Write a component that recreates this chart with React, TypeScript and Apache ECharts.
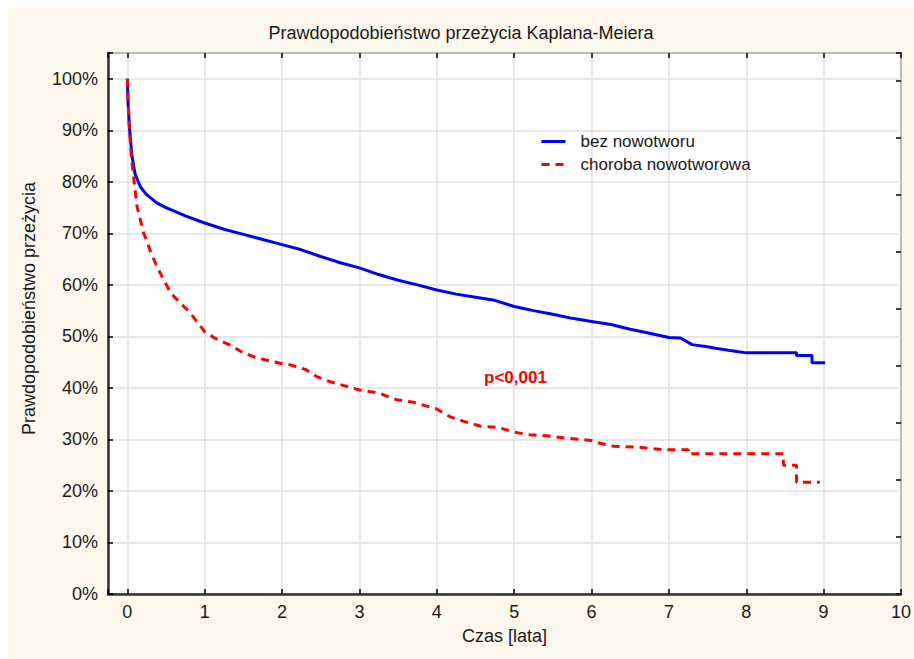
import React, { useEffect, useRef } from "react";
import * as echarts from "echarts";

// Kaplan–Meier curves (time in years, survival in %)
const noCancerSurvival: [number, number][] = [
  [0, 100], [0.01, 95], [0.03, 90], [0.06, 85], [0.1, 81.5], [0.17, 79], [0.25, 77.5],
  [0.38, 75.9], [0.5, 75], [0.75, 73.4], [1.0, 72], [1.25, 70.8], [1.5, 69.8],
  [1.75, 68.8], [2.0, 67.8], [2.25, 66.8], [2.5, 65.5], [2.75, 64.3], [3.0, 63.3],
  [3.25, 62.0], [3.5, 60.9], [3.75, 60.0], [4.0, 59.0], [4.25, 58.2], [4.5, 57.6],
  [4.75, 57.0], [5.0, 55.8], [5.25, 55.0], [5.5, 54.3], [5.75, 53.5], [6.0, 52.9],
  [6.25, 52.3], [6.5, 51.4], [6.75, 50.6], [7.0, 49.8], [7.15, 49.7], [7.3, 48.4],
  [7.5, 48.0], [7.6, 47.7], [7.9, 47.0], [8.0, 46.8], [8.65, 46.8], [8.65, 46.3],
  [8.85, 46.3], [8.85, 44.9], [9.02, 44.9],
];

const cancerSurvival: [number, number][] = [
  [0, 100], [0.02, 92], [0.05, 85], [0.08, 81], [0.125, 75.2], [0.21, 70.1], [0.3, 66.5],
  [0.38, 63.6], [0.56, 58.4], [0.81, 54.6], [1.0, 50.9], [1.15, 49.5], [1.33, 48.3],
  [1.5, 46.8], [1.68, 45.8], [2.0, 44.7], [2.1, 44.5], [2.3, 43.6], [2.45, 42.2],
  [2.62, 41.2], [3.0, 39.6], [3.25, 39.0], [3.48, 37.7], [3.7, 37.2], [4.0, 35.9],
  [4.17, 34.4], [4.35, 33.5], [4.56, 32.6], [4.8, 32.3], [5.0, 31.4], [5.2, 30.9],
  [5.42, 30.7], [5.7, 30.2], [6.0, 29.8], [6.1, 29.3], [6.28, 28.7], [6.6, 28.5],
  [6.93, 28.0], [7.25, 28.0], [7.25, 27.2], [8.48, 27.2], [8.48, 25.0], [8.65, 25.0],
  [8.65, 21.7], [8.95, 21.7],
];

const seriesNames = ["bez nowotworu", "choroba nowotworowa"];
const titleText = "Prawdopodobieństwo przeżycia Kaplana-Meiera";
const xAxisName = "Czas [lata]";
const yAxisName = "Prawdopodobieństwo przeżycia";
const pValueText = "p<0,001";

const FONT = "'Liberation Sans', Arial, sans-serif";
const TEXT = "#1a1a1a";
const CREAM = "#fdf8ed";

export default function App() {
  const ref = useRef<HTMLDivElement>(null);

  useEffect(() => {
    if (!ref.current) return;
    const chart = echarts.init(ref.current, null, { renderer: "svg" });
    const tickStyle = { inside: true, length: 5, lineStyle: { color: "#000", width: 1.5 } };
    chart.setOption({
      animation: false,
      backgroundColor: CREAM,
      textStyle: { fontFamily: FONT },
      title: {
        text: titleText,
        left: "center",
        top: 11,
        textStyle: { fontFamily: FONT, fontSize: 18, fontWeight: "normal", color: TEXT },
      },
      grid: {
        left: 100,
        top: 45,
        right: 12,
        bottom: 65,
        show: true,
        backgroundColor: "#ffffff",
        borderColor: "#111",
        borderWidth: 1.5,
      },
      legend: {
        orient: "vertical",
        left: 527,
        top: 120,
        itemWidth: 24,
        itemHeight: 14,
        itemGap: 6,
        data: seriesNames,
        itemStyle: { opacity: 0 },
        lineStyle: { width: 3 },
        textStyle: { fontFamily: FONT, fontSize: 17, color: TEXT, padding: [0, 0, 0, 10] },
      },
      xAxis: [
        {
          type: "value",
          position: "bottom",
          min: -0.25,
          max: 10,
          splitNumber: 10,
          name: xAxisName,
          nameLocation: "middle",
          nameGap: 33,
          nameTextStyle: { fontFamily: FONT, fontSize: 18, color: TEXT },
          axisLine: { show: true, onZero: false, lineStyle: { color: "#333", width: 2.5 } },
          axisTick: tickStyle,
          axisLabel: {
            margin: 9,
            fontFamily: FONT,
            fontSize: 18,
            color: TEXT,
            formatter: (v: number) => (Number.isInteger(v) ? String(v) : ""),
          },
          splitLine: { show: true, lineStyle: { color: "#e0e0e0", width: 1.5 } },
        },
        {
          type: "value",
          position: "top",
          min: -0.25,
          max: 10,
          splitNumber: 10,
          axisLine: { show: false, onZero: false },
          axisTick: tickStyle,
          axisLabel: { show: false },
          splitLine: { show: false },
        },
      ],
      yAxis: [
        {
          type: "value",
          position: "left",
          min: 0,
          max: 105,
          interval: 10,
          name: yAxisName,
          nameLocation: "middle",
          nameGap: 70,
          nameTextStyle: { fontFamily: FONT, fontSize: 18, color: TEXT, padding: [0, 0, 0, 30] },
          axisLine: { show: true, onZero: false, lineStyle: { color: "#333", width: 2.5 } },
          axisTick: tickStyle,
          axisLabel: {
            margin: 10,
            fontFamily: FONT,
            fontSize: 18,
            color: TEXT,
            formatter: (v: number) => (v > 100 ? "" : v + "%"),
          },
          splitLine: { show: true, lineStyle: { color: "#e0e0e0", width: 1.5 } },
        },
        {
          type: "value",
          position: "right",
          min: 0,
          max: 9.49,
          interval: 1,
          axisLine: { show: false, onZero: false },
          axisTick: tickStyle,
          axisLabel: { show: false },
          splitLine: { show: false },
        },
      ],
      graphic: [
        {
          type: "text",
          left: 476,
          top: 361,
          style: {
            text: pValueText,
            fontFamily: FONT,
            fontSize: 17,
            fontWeight: "bold",
            fill: "#ff0000",
          },
        },
      ],
      series: [
        {
          name: seriesNames[0],
          type: "line",
          xAxisIndex: 0,
          yAxisIndex: 0,
          data: noCancerSurvival,
          symbol: "none",
          showSymbol: false,
          color: "#0000ff",
          lineStyle: { color: "#0000ff", width: 3 },
        },
        {
          name: seriesNames[1],
          type: "line",
          xAxisIndex: 0,
          yAxisIndex: 0,
          data: cancerSurvival,
          symbol: "none",
          showSymbol: false,
          color: "#ff0000",
          lineStyle: { color: "#ff0000", width: 3, type: [8, 6] },
        },
      ],
    });
    return () => chart.dispose();
  }, []);

  return (
    <div
      ref={ref}
      style={{ position: "fixed", left: 8, top: 8, width: 906, height: 651 }}
    />
  );
}
